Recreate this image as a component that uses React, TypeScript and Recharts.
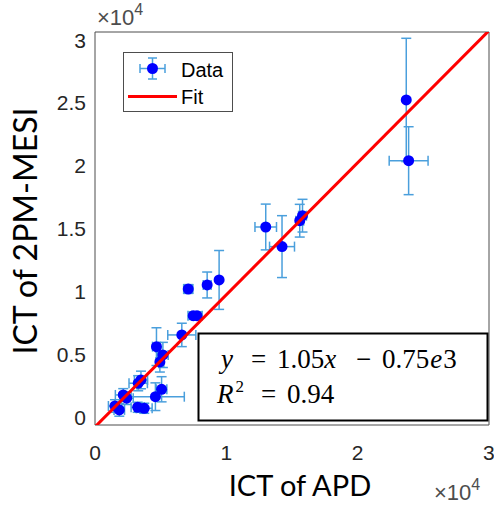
import { ScatterChart, Scatter, XAxis, YAxis, ErrorBar } from 'recharts';

// ICT values (x: APD, y: 2PM-MESI)
const apdIct = [
  23700, 23880, 15590, 15800, 13000, 14240, 9450, 8540, 7100, 7480, 7760, 6610, 4680,
  5170, 4940, 3290, 3500, 2150, 2410, 1520, 1850, 3250, 3750, 4600, 5070,
];
const mesiIct = [
  25240, 20410, 15640, 16040, 15140, 13580, 10930, 10530, 10210, 8090, 8090, 6560, 5630,
  4970, 4410, 2720, 2980, 1790, 1530, 910, 600, 810, 730, 1650, 2240,
];
const apdErr = [
  0, 1480, 300, 300, 820, 950, 0, 300, 350, 400, 400, 1070, 300, 400, 300, 700, 500, 600,
  500, 500, 400, 500, 600, 2200, 400,
];
const mesiErr = [
  4900, 2700, 1300, 1300, 1820, 2460, 2340, 1030, 350, 300, 300, 930, 1500, 1000, 800,
  600, 700, 500, 500, 500, 500, 400, 400, 1100, 1000,
];

const fitSlope = 1.05;
const fitIntercept = -750;
const fitR2 = 0.94;

const xDomain = [0, 30000];
const yDomain = [-600, 30640];
const xTicks = [0, 10000, 20000, 30000];
const yTicks = [0, 5000, 10000, 15000, 20000, 25000, 30000];

const points = apdIct.map((x, i) => ({ x, y: mesiIct[i], xErr: apdErr[i], yErr: mesiErr[i] }));
const fitData = xDomain.map((x) => ({ x, y: fitSlope * x + fitIntercept }));

const AXIS = '#4d4d4d';
const TEXT = '#262626';
const ERR = '#4a9fdc';
const tickStyle = { fill: TEXT, fontSize: 21, fontFamily: 'Liberation Sans, Arial, sans-serif' };
const fmt = (v: number) => String(v / 10000);

const Dot = (p: any) => <circle cx={p.cx} cy={p.cy} r={5.5} fill="#0000ff" />;

export default function App() {
  return (
    <div style={{ position: 'absolute', left: 0, top: 0, width: 494, height: 507, background: '#fff' }}>
      <ScatterChart width={494} height={507} margin={{ top: 32, right: 5, bottom: 52, left: 35 }}>
        <XAxis
          xAxisId="main"
          type="number"
          dataKey="x"
          domain={xDomain}
          ticks={xTicks}
          allowDataOverflow
          tickFormatter={fmt}
          tick={tickStyle}
          tickLine={false}
          tickSize={0}
          tickMargin={20}
          axisLine={{ stroke: AXIS }}
          height={30}
        />
        <XAxis xAxisId="bm" type="number" domain={xDomain} ticks={xTicks} allowDataOverflow mirror
          orientation="bottom" tick={false} tickSize={5} tickLine={{ stroke: AXIS }} axisLine={false} />
        <XAxis xAxisId="top" type="number" domain={xDomain} ticks={xTicks} allowDataOverflow mirror
          orientation="top" tick={false} tickSize={5} tickLine={{ stroke: AXIS }} axisLine={{ stroke: AXIS }} />
        <YAxis
          yAxisId="main"
          type="number"
          dataKey="y"
          domain={yDomain}
          ticks={yTicks}
          allowDataOverflow
          tickFormatter={fmt}
          tick={tickStyle}
          tickLine={false}
          tickSize={0}
          tickMargin={9}
          axisLine={{ stroke: AXIS }}
          width={60}
        />
        <YAxis yAxisId="lm" type="number" domain={yDomain} ticks={yTicks} allowDataOverflow mirror
          orientation="left" tick={false} tickSize={5} tickLine={{ stroke: AXIS }} axisLine={false} />
        <YAxis yAxisId="right" type="number" domain={yDomain} ticks={yTicks} allowDataOverflow mirror
          orientation="right" tick={false} tickSize={5} tickLine={{ stroke: AXIS }} axisLine={{ stroke: AXIS }} />
        <Scatter xAxisId="main" yAxisId="main" data={points} shape={Dot} isAnimationActive={false}>
          <ErrorBar dataKey="yErr" direction="y" width={5} stroke={ERR} strokeWidth={1.5} isAnimationActive={false} />
          <ErrorBar dataKey="xErr" direction="x" width={5} stroke={ERR} strokeWidth={1.5} isAnimationActive={false} />
        </Scatter>
        <Scatter
          xAxisId="main"
          yAxisId="main"
          data={fitData}
          line={{ stroke: '#ff0000', strokeWidth: 3 }}
          shape={() => <g />}
          isAnimationActive={false}
        />
      </ScatterChart>
      <svg width={494} height={507} style={{ position: 'absolute', left: 0, top: 0, pointerEvents: 'none' }}>
        {/* legend */}
        <rect x={123.5} y={52.5} width={109} height={59} fill="#fff" stroke={AXIS} strokeWidth={1} />
        <g stroke={ERR} strokeWidth={1.5}>
          <line x1={140} y1={68.5} x2={165} y2={68.5} />
          <line x1={140} y1={64} x2={140} y2={73} />
          <line x1={165} y1={64} x2={165} y2={73} />
          <line x1={152.5} y1={58} x2={152.5} y2={79} />
          <line x1={148} y1={58} x2={157} y2={58} />
          <line x1={148} y1={79} x2={157} y2={79} />
        </g>
        <circle cx={152.5} cy={68.5} r={5.5} fill="#0000ff" />
        <line x1={128} y1={96.5} x2={177} y2={96.5} stroke="#ff0000" strokeWidth={3} />
        <g fill="#000" fontSize={20} fontFamily="Liberation Sans, Arial, sans-serif">
          <text x={181} y={77}>Data</text>
          <text x={181} y={104}>Fit</text>
        </g>
        {/* fit annotation */}
        <rect x={198.5} y={333.5} width={289} height={87} fill="#fff" stroke="#000" strokeWidth={2} />
        <g fill="#000" fontSize={27} fontFamily="Liberation Serif, Times New Roman, serif">
          <text y={368}>
            <tspan x={221} fontStyle="italic">y</tspan>
            <tspan x={251}>=</tspan>
            <tspan x={277}>{fitSlope.toFixed(2)}</tspan>
            <tspan fontStyle="italic">x</tspan>
            <tspan x={356}>−</tspan>
            <tspan x={382}>{(-fitIntercept / 1000).toFixed(2)}</tspan>
            <tspan fontStyle="italic" dx={1}>e</tspan>
            <tspan dx={1}>3</tspan>
          </text>
          <text y={403}>
            <tspan x={217} fontStyle="italic">R</tspan>
            <tspan fontSize={17} dy={-11} dx={2}>2</tspan>
            <tspan x={261} dy={11}>=</tspan>
            <tspan x={287}>{fitR2.toFixed(2)}</tspan>
          </text>
        </g>
        {/* exponent labels */}
        <g fill="#4d4d4d" fontSize={22} fontFamily="Liberation Sans, Arial, sans-serif">
          <text x={97} y={25}>
            ×10<tspan fontSize={16} dy={-10}>4</tspan>
          </text>
          <text x={434} y={500}>
            ×10<tspan fontSize={16} dy={-10}>4</tspan>
          </text>
        </g>
        {/* axis titles */}
        <text x={300} y={496} textAnchor="middle" fill="#000" fontSize={29} fontFamily="Lato, sans-serif">
          ICT of APD
        </text>
        <text
          transform="translate(37,231) rotate(-90)"
          textAnchor="middle"
          fill="#000"
          fontSize={32}
          fontFamily="Lato, sans-serif"
        >
          ICT of 2PM-MESI
        </text>
      </svg>
    </div>
  );
}
